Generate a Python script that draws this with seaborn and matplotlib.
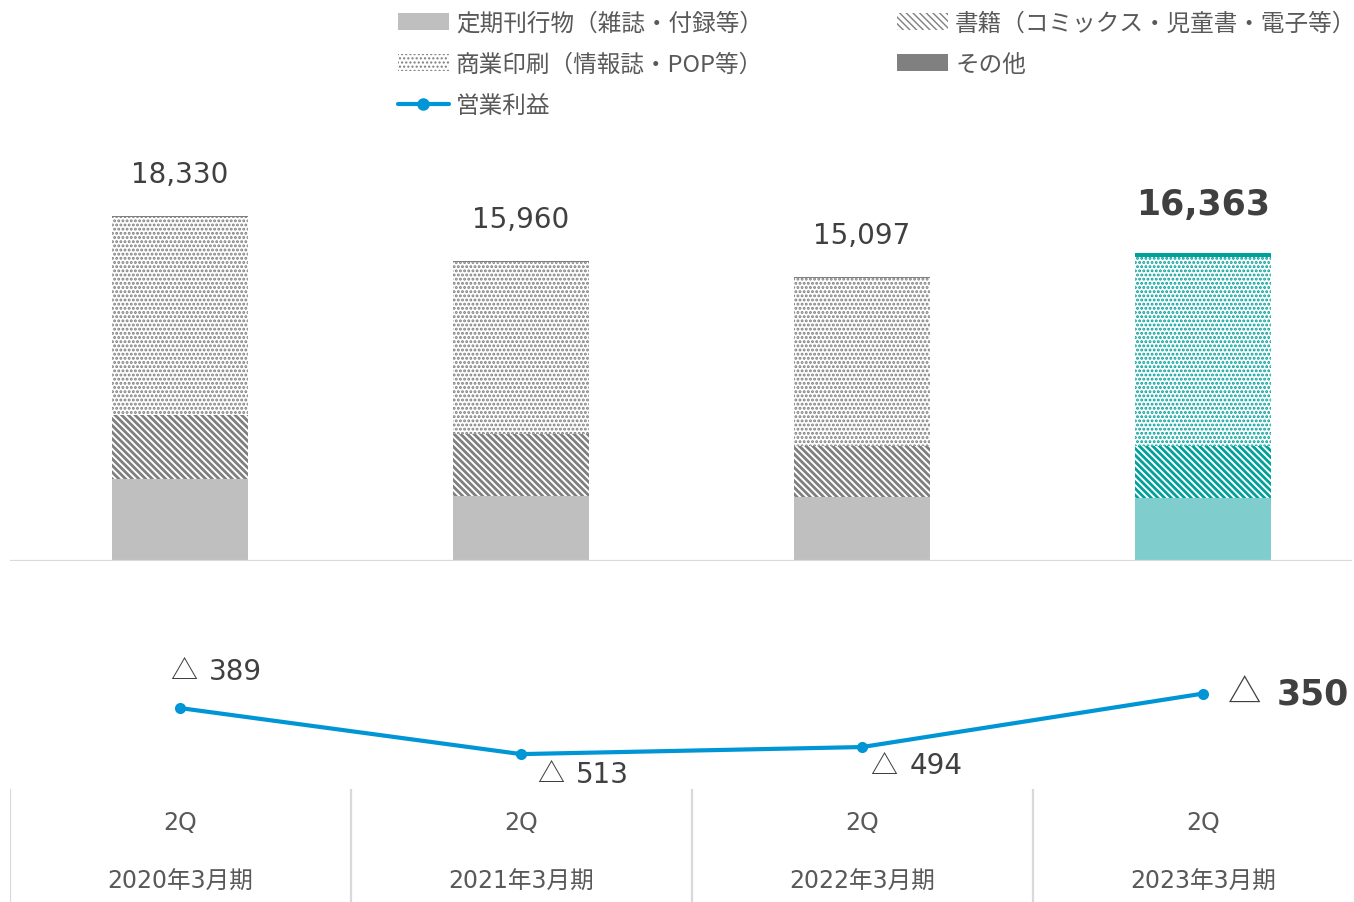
import matplotlib
matplotlib.use("Agg")
import matplotlib.pyplot as plt
import matplotlib.patches as mpatches
from matplotlib.lines import Line2D
import seaborn as sns
import numpy as np
import pandas as pd

# data (百万円)
periods = ["2020年3月期", "2021年3月期", "2022年3月期", "2023年3月期"]
quarter = ["2Q", "2Q", "2Q", "2Q"]
periodicals = [4360, 3450, 3400, 3350]      # 定期刊行物（雑誌・付録等）
books = [3400, 3290, 2710, 2760]            # 書籍（コミックス・児童書・電子等）
commercial = [10530, 9160, 8927, 10043]     # 商業印刷（情報誌・POP等）
others = [40, 60, 60, 210]                  # その他
totals = [18330, 15960, 15097, 16363]
op_income = [-389, -513, -494, -350]        # 営業利益

GRAY_FILL = "#BFBFBF"
GRAY_HATCH = "#7F7F7F"
TEAL_FILL = "#80CDCD"
TEAL_HATCH = "#00A19A"
LINE_BLUE = "#0096D6"
TEXT = "#404040"
SUB = "#595959"
GRID = "#D9D9D9"
DOTS = "...."
DIAG = "\\" * 5
CJK = ["Noto Sans CJK JP", "DejaVu Sans"]

sns.set_style("white")
plt.rcParams["font.family"] = ["DejaVu Sans", "Noto Sans CJK JP"]

W, H = 1354, 903
fig = plt.figure(figsize=(W / 100, H / 100), dpi=100)

x_left = 9.5 / W
x_width = (1352 - 9.5) / W
xlim = (-0.5, -0.5 + (1352 - 9.5) / 341)

ax = fig.add_axes([x_left, (H - 562) / H, x_width, (562 - 140) / H])
ax_line = fig.add_axes([x_left, (H - 790) / H, x_width, 150 / H])
ax_tab = fig.add_axes([x_left, 0, x_width, 113 / H])

df = pd.DataFrame({"period": periods, "periodicals": periodicals, "books": books,
                   "commercial": commercial, "others": others})
df["c1"] = df["periodicals"]
df["c2"] = df["c1"] + df["books"]
df["c3"] = df["c2"] + df["commercial"]
df["c4"] = df["c3"] + df["others"]

# layers drawn from the top segment downward (cumulative heights)
layers = [
    ("c4", None, ["#808080"] * 3 + [TEAL_HATCH], ["#808080"] * 3 + [TEAL_HATCH], 1.0),
    ("c3", DOTS, ["white"] * 4, [GRAY_HATCH] * 3 + [TEAL_HATCH], 1.4),
    ("c2", DIAG, ["white"] * 4, [GRAY_HATCH] * 3 + [TEAL_HATCH], 2.0),
    ("c1", None, [GRAY_FILL] * 3 + [TEAL_FILL], [GRAY_FILL] * 3 + [TEAL_FILL], 1.0),
]
for col, hatch, faces, edges, hlw in layers:
    n_before = len(ax.patches)
    with plt.rc_context({"hatch.linewidth": hlw}):
        sns.barplot(data=df, x="period", y=col, ax=ax, width=0.4, color="white",
                    saturation=1, hatch=hatch, linewidth=0, edgecolor="white")
    for i, p in enumerate(ax.patches[n_before:]):
        p.set_facecolor(faces[i])
        p.set_edgecolor(edges[i])
        p.set_linewidth(0)
        if hatch and hasattr(p, "set_hatch_linewidth"):
            p.set_hatch_linewidth(hlw)

ax.set_xlim(*xlim)
ax.set_ylim(0, 18330 * 422 / 345)
ax.axhline(0, color=GRID, lw=1.6, zorder=5)
ax.axis("off")

for i, t in enumerate(totals):
    last = i == len(totals) - 1
    ax.annotate(f"{t:,}", (i, t), xytext=(0, 35 if last else 30), textcoords="offset points",
                ha="center", va="center", fontsize=25 if last else 20,
                fontweight="bold" if last else "normal", color=TEXT)

# operating income line
sns.lineplot(x=np.arange(len(op_income)), y=op_income, ax=ax_line, color=LINE_BLUE,
             linewidth=3, marker="o", markersize=8, markeredgewidth=0)
ax_line.set_xlim(*xlim)
ax_line.set_ylim(-607, -203)
ax_line.axis("off")

# (triangle offset, number offset) in points
offsets = [((-7, 27), (21, 27)), ((11.5, -14), (39.5, -14)), ((6, -13), (34, -13)),
           ((18, 0), (53, 0))]
for i, ((tx, ty), (nx, ny)) in enumerate(offsets):
    last = i == len(offsets) - 1
    ax_line.annotate("△", (i, op_income[i]), xytext=(tx, ty), textcoords="offset points",
                     ha="left", va="center", fontsize=24 if last else 19.5, color=TEXT,
                     family=CJK)
    ax_line.annotate(f"{abs(op_income[i])}", (i, op_income[i]), xytext=(nx, ny),
                     textcoords="offset points", ha="left", va="center",
                     fontsize=25 if last else 20, fontweight="bold" if last else "normal",
                     color=TEXT)

# category table
ax_tab.set_xlim(*xlim)
ax_tab.set_ylim(0, 1)
for b in [-0.5, 0.5, 1.5, 2.5]:
    ax_tab.axvline(b, color=GRID, lw=1.6)
for i in range(len(periods)):
    ax_tab.text(i, 0.708, quarter[i], ha="center", va="center", fontsize=17, color=SUB)
    ax_tab.text(i, 0.186, periods[i], ha="center", va="center", fontsize=17, color=SUB)
ax_tab.axis("off")

# legend
with plt.rc_context({"hatch.linewidth": 1.4}):
    h_dots = mpatches.Patch(facecolor="white", edgecolor=GRAY_HATCH, lw=0, hatch=DOTS,
                            label="商業印刷（情報誌・POP等）")
with plt.rc_context({"hatch.linewidth": 2.0}):
    h_diag = mpatches.Patch(facecolor="white", edgecolor=GRAY_HATCH, lw=0, hatch=DIAG,
                            label="書籍（コミックス・児童書・電子等）")
handles = [
    mpatches.Patch(facecolor=GRAY_FILL, edgecolor=GRAY_FILL, lw=0, label="定期刊行物（雑誌・付録等）"),
    h_dots,
    Line2D([0], [0], color=LINE_BLUE, lw=3, marker="o", markersize=9, markeredgewidth=0, label="営業利益"),
    h_diag,
    mpatches.Patch(facecolor="#808080", edgecolor="#808080", lw=0, label="その他"),
]
leg = fig.legend(handles=handles, loc="upper left", bbox_to_anchor=(398 / W, 1 - 13 / H),
                 ncol=2, frameon=False, borderpad=0, borderaxespad=0,
                 handlelength=2.15, handleheight=0.7, handletextpad=0.3,
                 columnspacing=5.68, labelspacing=0.76,
                 prop={"family": CJK, "size": 17.0})
for t in leg.get_texts():
    t.set_color(SUB)

fig.savefig("out.png", dpi=100)
